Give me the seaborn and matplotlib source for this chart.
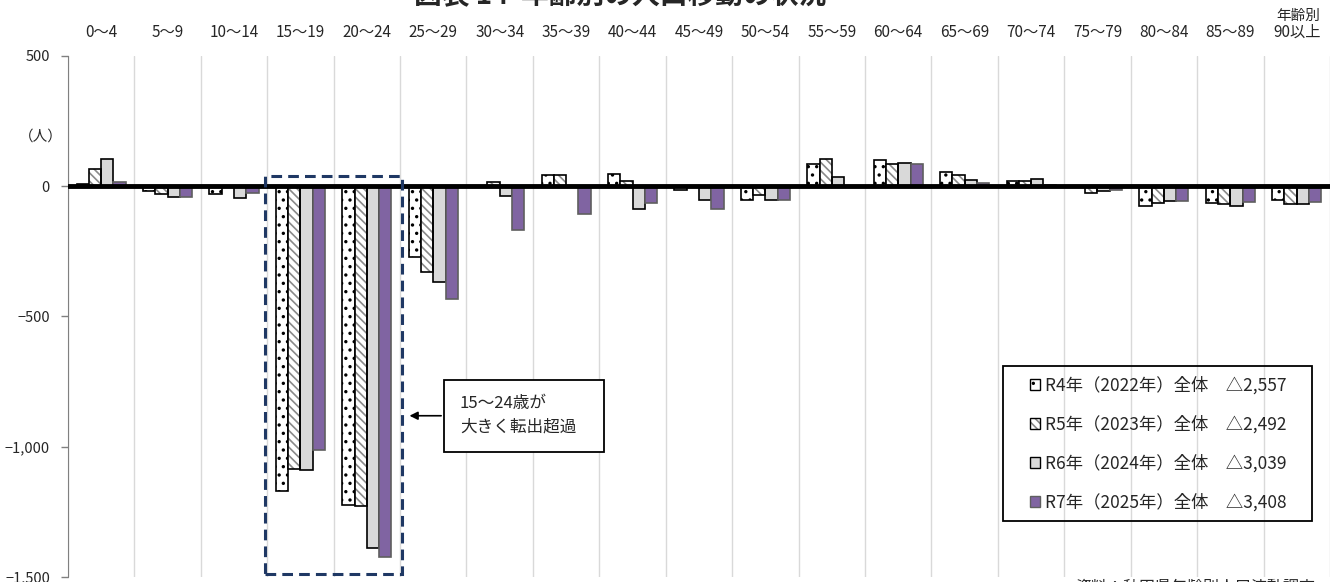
import pandas as pd
import matplotlib
matplotlib.use("Agg")
import matplotlib.pyplot as plt
from matplotlib.patches import Rectangle, Patch
from matplotlib.ticker import FuncFormatter, MultipleLocator
import seaborn as sns

# --- data ---
ages = ['0～4', '5～9', '10～14', '15～19', '20～24', '25～29', '30～34', '35～39',
        '40～44', '45～49', '50～54', '55～59', '60～64', '65～69', '70～74',
        '75～79', '80～84', '85～89', '90以上']
r4 = [10, -18, -29, -1170, -1224, -270, -3, 45, 47, -13, -51, 86, 102, 54, 19, -3, -75, -63, -53]
r5 = [67, -29, -3, -1087, -1227, -331, 15, 45, 19, -2, -32, 104, 85, 44, 19, -27, -65, -67, -70]
r6 = [105, -41, -45, -1090, -1388, -369, -36, 2, -86, -53, -53, 36, 89, 23, 28, -20, -58, -75, -70]
r7 = [17, -42, -27, -1011, -1422, -431, -169, -108, -64, -86, -54, 2, 87, 14, 5, -14, -55, -61, -59]
years = ['R4年（2022年）全体　△2,557', 'R5年（2023年）全体　△2,492',
         'R6年（2024年）全体　△3,039', 'R7年（2025年）全体　△3,408']

df = pd.DataFrame({
    'age': ages * 4,
    'value': r4 + r5 + r6 + r7,
    'year': [y for y in years for _ in ages],
})

sns.set_style("white")
plt.rcParams['font.family'] = ['Noto Sans CJK JP', 'DejaVu Sans']
plt.rcParams['hatch.linewidth'] = 1.2

fig = plt.figure(figsize=(13.38, 5.82), dpi=100)
ax = fig.add_axes([0.0508, 0.0086, 0.9432, 0.8952])

faces = ['white', 'white', '#d9d9d9', '#8064a2']
sns.barplot(data=df, x='age', y='value', hue='year', order=ages, hue_order=years,
            palette=faces, width=0.74, gap=0, legend=False, ax=ax, zorder=2)

DOTS = '..'
STRIPES = '\\\\\\\\'

# --- bar styling ---
for i, cont in enumerate(ax.containers):
    for p in cont:
        if i == 0:
            p.set_facecolor('white'); p.set_edgecolor('black'); p.set_linewidth(1.2)
            p.set_hatch(DOTS)
        elif i == 1:
            p.set_facecolor('white'); p.set_edgecolor('#8a8a8a'); p.set_linewidth(0)
            p.set_hatch(STRIPES)
            ax.add_patch(Rectangle(p.get_xy(), p.get_width(), p.get_height(),
                                   fill=False, edgecolor='black', lw=1.2, zorder=2.5))
        elif i == 2:
            p.set_facecolor('#d9d9d9'); p.set_edgecolor('black'); p.set_linewidth(1.2)
        else:
            p.set_facecolor('#8064a2'); p.set_edgecolor('#5f5f5f'); p.set_linewidth(1.2)

ax.axhline(0, color='black', lw=3.5, zorder=4)

# --- axes ---
ax.set_xlim(-0.5, len(ages) - 0.5)
ax.set_ylim(-1500, 500)
ax.yaxis.set_major_locator(MultipleLocator(500))
ax.yaxis.set_major_formatter(FuncFormatter(lambda v, _: f'{v:,.0f}'.replace('-', '−')))
ax.set_xticks(range(len(ages)))
ax.set_xticklabels(ages)
ax.set_xticks([k - 0.5 for k in range(len(ages) + 1)], minor=True)
ax.xaxis.grid(True, which='minor', color='#d9d9d9', lw=1)
ax.tick_params(axis='x', which='both', top=False, bottom=False, labeltop=True,
               labelbottom=False, length=0, pad=11, labelsize=11)
ax.tick_params(axis='y', left=True, length=5, width=1, color='#808080',
               labelsize=10.5, pad=8)
for s in ['top', 'right', 'bottom']:
    ax.spines[s].set_visible(False)
ax.spines['left'].set_color('#808080')
ax.set_xlabel('')
ax.set_ylabel('')

# --- highlight box and note ---
ax.add_patch(Rectangle((2.47, -1488), 4.53 - 2.47, 40 + 1488, fill=False,
                       edgecolor='#1f3864', lw=2.2, ls=(0, (3.5, 2)), zorder=5, clip_on=False))
ax.add_patch(Rectangle((5.16, -1019), 7.57 - 5.16, 1019 - 742, facecolor='white',
                       edgecolor='black', lw=1.3, zorder=5))
ax.text(5.40, -881, '15～24歳が\n大きく転出超過', fontsize=12, va='center', ha='left',
        linespacing=1.5, zorder=6)
ax.annotate('', xy=(4.60, -881), xytext=(5.16, -881),
            arrowprops=dict(arrowstyle='-|>', color='black', lw=1.2, mutation_scale=12),
            zorder=6)

# --- legend ---
handles = [
    Patch(facecolor='white', edgecolor='black', hatch=DOTS, lw=1),
    (Patch(facecolor='white', edgecolor='#8a8a8a', hatch=STRIPES, lw=0),
     Patch(fill=False, edgecolor='black', lw=1)),
    Patch(facecolor='#d9d9d9', edgecolor='black', lw=1),
    Patch(facecolor='#8064a2', edgecolor='#5f5f5f', lw=1),
]
fig.legend(handles, years, loc='upper left', bbox_to_anchor=(1030 / 1338, 1 - 376 / 582),
           fontsize=12.5, frameon=False, handlelength=0.6, handleheight=0.6,
           handletextpad=0.25, labelspacing=1.2, borderpad=0, borderaxespad=0)
fig.add_artist(Rectangle((1003 / 1338, 1 - 521 / 582), 309 / 1338, 155 / 582,
                         transform=fig.transFigure, fill=False, edgecolor='black', lw=1.3))

# --- texts ---
fig.text(620 / 1338, 1 + 5 / 582, '図表 14  年齢別の人口移動の状況', fontsize=20,
         fontweight='bold', ha='center', va='center')
fig.text(1320 / 1338, 1 - 16 / 582, '年齢別', fontsize=10.5, ha='right', va='center')
fig.text(41 / 1338, 1 - 137 / 582, '（人）', fontsize=10.5, ha='center', va='center')
fig.text(1075 / 1338, 1 - 579 / 582, '資料：秋田県年齢別人口流動調査', fontsize=11.5,
         ha='left', va='top')

fig.savefig('out.png', dpi=100)
